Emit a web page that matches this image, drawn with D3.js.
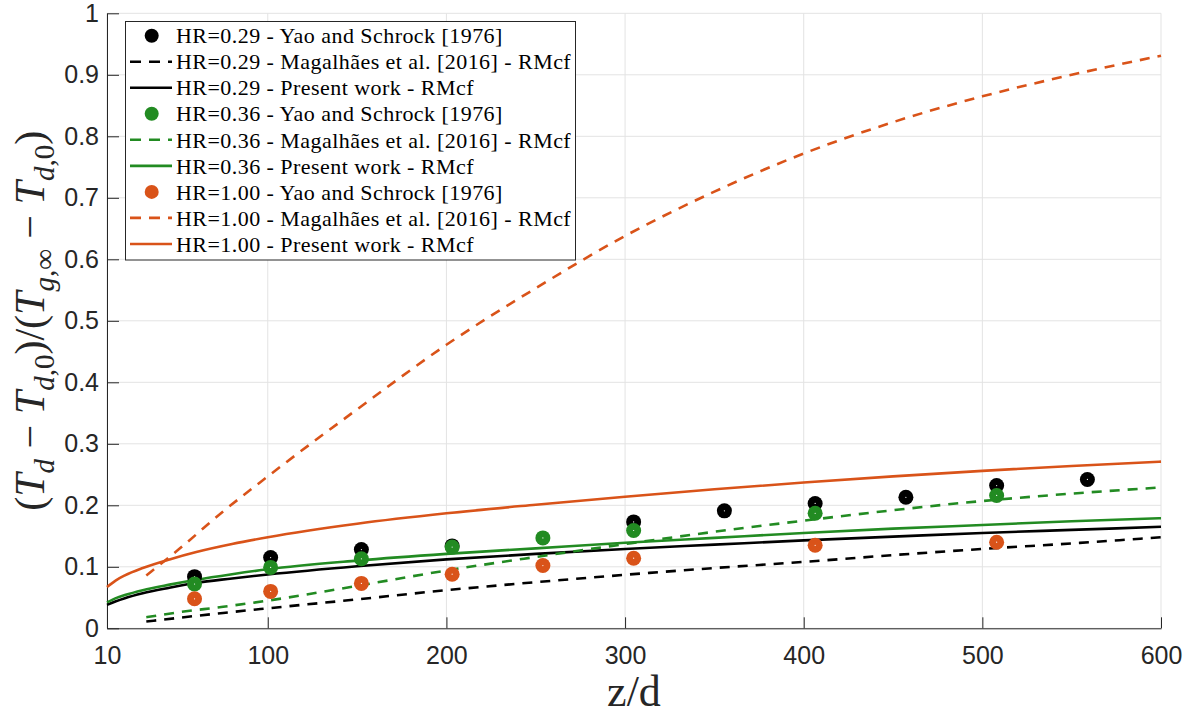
<!DOCTYPE html>
<html lang="en">
<head>
<meta charset="UTF-8">
<title>Droplet temperature vs z/d</title>
<script src="https://cdn.jsdelivr.net/npm/d3@7"></script>
<style>
  body { margin: 0; background: #fff; }
  svg { display: block; }
</style>
</head>
<body>
<div id="chart"></div>
<script>
    // experimental points (Yao and Schrock [1976])
    const zExp = [59, 101.6, 152.4, 203.2, 254, 304.8, 355.6, 406.4, 457.2, 508, 558.8];
    const exp029 = [0.084, 0.115, 0.128, 0.134, null, 0.173, 0.191, 0.203, 0.213, 0.232, 0.242];
    const exp036 = [0.072, 0.099, 0.113, 0.132, 0.147, 0.159, null, 0.187, null, 0.216, null];
    const exp100 = [0.048, 0.060, 0.073, 0.088, 0.102, 0.114, null, 0.135, null, 0.140, null];

    // present work - RMcf (solid)
    const zSolid = [10, 15, 20, 30, 45, 60, 80, 100, 150, 200, 250, 300, 350, 400, 450, 500, 550, 600];
    const pw029 = [0.038, 0.044, 0.049, 0.057, 0.066, 0.074, 0.081, 0.0875, 0.101, 0.112, 0.121, 0.129, 0.136, 0.143, 0.149, 0.155, 0.160, 0.165];
    const pw036 = [0.042, 0.049, 0.054, 0.062, 0.071, 0.079, 0.088, 0.096, 0.110, 0.121, 0.130, 0.139, 0.147, 0.155, 0.162, 0.168, 0.174, 0.179];
    const pw100 = [0.067, 0.078, 0.086, 0.098, 0.112, 0.124, 0.137, 0.148, 0.170, 0.187, 0.201, 0.214, 0.226, 0.237, 0.247, 0.256, 0.264, 0.271];

    // Magalhaes et al. [2016] - RMcf (dashed)
    const zDash = [32, 50, 75, 100, 150, 200, 250, 300, 350, 400, 450, 500, 550, 600];
    const mg029 = [0.011, 0.017, 0.025, 0.0325, 0.047, 0.062, 0.075, 0.087, 0.098, 0.108, 0.119, 0.129, 0.138, 0.148];
    const mg036 = [0.018, 0.026, 0.035, 0.045, 0.069, 0.094, 0.116, 0.137, 0.157, 0.175, 0.192, 0.207, 0.219, 0.229];
    const mg100 = [0.086, 0.128, 0.19, 0.247, 0.356, 0.461, 0.553, 0.638, 0.710, 0.772, 0.823, 0.865, 0.900, 0.931];

    const xTicks = [10, 100, 200, 300, 400, 500, 600];
    const yTicks = [0, 0.1, 0.2, 0.3, 0.4, 0.5, 0.6, 0.7, 0.8, 0.9, 1];

    const groups = [
        {hr: "0.29", color: "#000000", exp: exp029, pw: pw029, mg: mg029},
        {hr: "0.36", color: "#228B22", exp: exp036, pw: pw036, mg: mg036},
        {hr: "1.00", color: "#D95319", exp: exp100, pw: pw100, mg: mg100}
    ];

    const width = 1192, height = 718;
    const mLeft = 107, mRight = 1161, mTop = 13.3, mBottom = 628.3;
    const axisColor = "#262626";
    const dash = "10,8";

    const x = d3.scaleLinear().domain([10, 600]).range([mLeft, mRight]);
    const y = d3.scaleLinear().domain([0, 1]).range([mBottom, mTop]);

    const svg = d3.select("#chart").append("svg")
        .attr("width", width)
        .attr("height", height);

    // grid
    const grid = svg.append("g").attr("stroke", "#e3e3e3").attr("stroke-width", 1);
    grid.selectAll(".gx").data(xTicks).join("line")
        .attr("x1", d => x(d)).attr("x2", d => x(d))
        .attr("y1", mTop).attr("y2", mBottom);
    grid.selectAll(".gy").data(yTicks).join("line")
        .attr("x1", mLeft).attr("x2", mRight)
        .attr("y1", d => y(d)).attr("y2", d => y(d));

    // axes
    const gx = svg.append("g")
        .attr("transform", `translate(0,${mBottom})`)
        .call(d3.axisBottom(x).tickValues(xTicks).tickSizeInner(-11).tickSizeOuter(0).tickPadding(27));
    const gy = svg.append("g")
        .attr("transform", `translate(${mLeft},0)`)
        .call(d3.axisLeft(y).tickValues(yTicks).tickFormat(d3.format("~g")).tickSizeInner(-12).tickSizeOuter(0).tickPadding(8));

    [gx, gy].forEach(g => {
        g.select(".domain").attr("stroke", axisColor);
        g.selectAll(".tick line").attr("stroke", axisColor);
        g.selectAll(".tick text")
            .attr("fill", axisColor)
            .attr("font-family", "Liberation Sans, Arial, sans-serif")
            .attr("font-size", 25);
    });
    gx.selectAll(".tick text").attr("dy", "0.35em");

    // curves
    const line = d3.line().curve(d3.curveMonotoneX).x(d => x(d[0])).y(d => y(d[1]));
    const plot = svg.append("g");

    groups.forEach(g => {
        plot.append("path")
            .attr("d", line(zDash.map((z, i) => [z, g.mg[i]])))
            .attr("fill", "none").attr("stroke", g.color)
            .attr("stroke-width", 2.6).attr("stroke-dasharray", dash);
        plot.append("path")
            .attr("d", line(zSolid.map((z, i) => [z, g.pw[i]])))
            .attr("fill", "none").attr("stroke", g.color)
            .attr("stroke-width", 2.6);
    });

    groups.forEach(g => {
        const pts = zExp.map((z, i) => [z, g.exp[i]]).filter(d => d[1] !== null);
        const dots = plot.append("g");
        dots.selectAll("circle.m").data(pts).join("circle")
            .attr("cx", d => x(d[0])).attr("cy", d => y(d[1]))
            .attr("r", 7.5).attr("fill", g.color);
        dots.selectAll("circle.c").data(pts).join("circle")
            .attr("cx", d => x(d[0])).attr("cy", d => y(d[1]))
            .attr("r", 0.6).attr("fill", "#fff");
    });

    // legend
    const leg = svg.append("g");
    leg.append("rect")
        .attr("x", 125.5).attr("y", 21.5).attr("width", 450).attr("height", 238.5)
        .attr("fill", "#fff").attr("stroke", axisColor).attr("stroke-width", 1);

    const entries = [];
    groups.forEach(g => {
        entries.push({kind: "dot", color: g.color, label: `HR=${g.hr} - Yao and Schrock [1976]`});
        entries.push({kind: "dash", color: g.color, label: `HR=${g.hr} - Magalhães et al. [2016] - RMcf`});
        entries.push({kind: "solid", color: g.color, label: `HR=${g.hr} - Present work - RMcf`});
    });

    entries.forEach((e, i) => {
        const cy = 35.7 + i * 26.03;
        if (e.kind === "dot") {
            leg.append("circle").attr("cx", 151.7).attr("cy", cy).attr("r", 7).attr("fill", e.color);
        } else {
            leg.append("line")
                .attr("x1", 130).attr("x2", 172).attr("y1", cy).attr("y2", cy)
                .attr("stroke", e.color).attr("stroke-width", 2.6)
                .attr("stroke-dasharray", e.kind === "dash" ? "11,8" : null);
        }
        leg.append("text")
            .attr("x", 176).attr("y", cy).attr("dy", "0.35em")
            .attr("font-family", "Liberation Serif, Times New Roman, serif")
            .attr("font-size", 22)
            .attr("letter-spacing", 0.45)
            .attr("fill", "#000")
            .text(e.label);
    });

    // axis labels
    svg.append("text")
        .attr("x", (mLeft + mRight) / 2).attr("y", 706)
        .attr("text-anchor", "middle")
        .attr("font-family", "Liberation Serif, Times New Roman, serif")
        .attr("font-size", 44)
        .attr("fill", axisColor)
        .text("z/d");

    const yLab = svg.append("text")
        .attr("transform", `translate(44,${(mTop + mBottom) / 2}) rotate(-90)`)
        .attr("text-anchor", "middle")
        .attr("font-family", "Liberation Serif, Times New Roman, serif")
        .attr("font-size", 42)
        .attr("fill", axisColor);

    const parts = [
        ["(", 0, false], ["T", 0, true], ["d", 1, true], [" − ", 0, false],
        ["T", 0, true], ["d", 1, true], [",0", 1, false], [")/(", 0, false],
        ["T", 0, true], ["g", 1, true], [",∞", 1, false], [" − ", 0, false],
        ["T", 0, true], ["d", 1, true], [",0", 1, false], [")", 0, false]
    ];
    let shift = 0;
    parts.forEach(([t, sub, it]) => {
        const target = sub ? 10 : 0;
        yLab.append("tspan")
            .attr("dy", target - shift)
            .attr("font-size", sub ? 29 : 42)
            .attr("font-style", it ? "italic" : "normal")
            .text(t);
        shift = target;
    });
</script>
</body>
</html>
